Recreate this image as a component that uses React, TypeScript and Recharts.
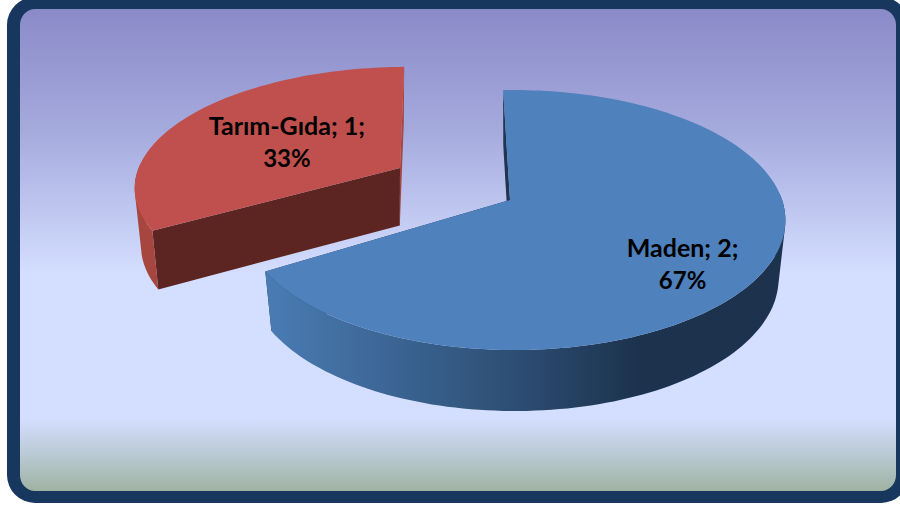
import React from "react";
import { PieChart, Pie } from "recharts";

const categories = ["Maden", "Tarım-Gıda"];
const values = [2, 1];
const tableData = categories.map((name, i) => ({ name, value: values[i] }));

const W = 900;
const H = 506;
const KV = 0.154;
const KU = -0.015;
const RY_RATIO = 0.4735;

type Pose = {
  dx: number; dy: number; rot: number; rx: number; ry: number; shear: number; lowDx: number;
  top: string; face: string; walls: [number, string][]; labelF: number; labelDy: number;
};
const poses: Record<string, Pose> = {
  "Maden": {
    dx: 0, dy: 0, rot: 0, rx: 1, ry: 1, shear: 0, lowDx: 0, top: "#4f81bd", face: "#1f3550",
    walls: [[0, "#4a7cb4"], [0.45, "#2f5178"], [0.72, "#1c324d"], [1, "#1c324d"]],
    labelF: 0.688, labelDy: 21,
  },
  "Tarım-Gıda": {
    dx: -110, dy: -32, rot: 1.5, rx: 0.99, ry: 0.92, shear: 5, lowDx: -3, top: "#c0504d", face: "#5c2522",
    walls: [[0, "#a6463f"], [1, "#a6463f"]],
    labelF: 0.52, labelDy: 4,
  },
};

function project(cx: number, cy: number, R: number, deg: number, p: Pose, f = 1) {
  const t = ((deg + p.rot) * Math.PI) / 180;
  const u = Math.sin(t) * f;
  const v = Math.cos(t) * f;
  const d = 1 + KV * v + KU * u;
  return [
    cx + p.dx + (R * p.rx * u) / d + p.shear * v,
    cy + p.dy - (R * RY_RATIO * p.ry * v) / d,
  ];
}

function lower(pt: number[], cx: number, cy: number, p: Pose) {
  return [cx + p.lowDx + 0.975 * (pt[0] - cx), pt[1] + 58 + 0.02 * (pt[1] - cy)];
}

const toPath = (pts: number[][]) =>
  "M" + pts.map((q) => `${q[0].toFixed(1)},${q[1].toFixed(1)}`).join("L") + "Z";

// Same winding for every quad, so overlapping quads never cancel under nonzero fill.
function orientedQuad(pts: number[][]) {
  let area = 0;
  pts.forEach((a, i) => {
    const b = pts[(i + 1) % pts.length];
    area += a[0] * b[1] - b[0] * a[1];
  });
  return toPath(area < 0 ? [...pts].reverse() : pts);
}

function Slice3D(props: any) {
  const { cx, cy, outerRadius, startAngle, endAngle, name } = props;
  const p = poses[name];
  const a0 = 90 - Math.max(startAngle, endAngle);
  const a1 = 90 - Math.min(startAngle, endAngle);
  const rim: number[][] = [];
  const n = Math.ceil((a1 - a0) / 1.5);
  for (let i = 0; i <= n; i++) rim.push(project(cx, cy, outerRadius, a0 + ((a1 - a0) * i) / n, p));
  const apex = project(cx, cy, outerRadius, 0, p, 0);
  const rimLow = rim.map((q) => lower(q, cx, cy, p));
  const apexLow = lower(apex, cx, cy, p);
  const gid = `wall-${p.dx}`;
  const first = rim[0];
  const last = rim[rim.length - 1];
  const xs = rim.map((q) => q[0]);
  const wallPath = rim
    .slice(1)
    .map((q, i) =>
      rim[i][1] > apex[1] - 5 || q[1] > apex[1] - 5 ? orientedQuad([rim[i], q, rimLow[i + 1], rimLow[i]]) : ""
    )
    .join("");
  return (
    <g>
      <defs>
        <linearGradient id={gid} gradientUnits="userSpaceOnUse" x1={Math.min(...xs)} x2={Math.max(...xs)} y1={0} y2={0}>
          {p.walls.map(([o, c]) => <stop key={o} offset={o} stopColor={c} />)}
        </linearGradient>
      </defs>
      <path d={toPath([apex, first, rimLow[0], apexLow])} fill={p.face} />
      <path d={toPath([apex, last, rimLow[rimLow.length - 1], apexLow])} fill={p.dx === 0 ? p.face : p.walls[0][1]} />
      <path d={wallPath} fill={`url(#${gid})`} />
      <path d={toPath([apex, ...rim])} fill={p.top} />
    </g>
  );
}

function SliceLabel(props: any) {
  const { cx, cy, outerRadius, midAngle, name, value, percent } = props;
  const p = poses[name];
  const [x, y] = project(cx, cy, outerRadius, 90 - midAngle, p, p.labelF);
  return (
    <text x={x} y={y + p.labelDy} textAnchor="middle" fill="#000" fontFamily="Lato, 'Open Sans', sans-serif" fontWeight={700} fontSize={25}>
      <tspan x={x} dy={-8}>{`${name}; ${value};`}</tspan>
      <tspan x={x} dy={32} fontSize={24}>{`${Math.round(percent * 100)}%`}</tspan>
    </text>
  );
}

export default function App() {
  return (
    <div style={{ position: "absolute", left: 0, top: 0, width: W, height: H, overflow: "hidden", background: "#fff" }}>
      <div
        style={{
          position: "absolute", left: 7, top: -3, width: 902, height: 506, boxSizing: "border-box",
          border: "13px solid #17375e", borderTopWidth: 12, borderBottomWidth: 12, borderRadius: 28,
          background:
            "linear-gradient(180deg, #8a8ac8 0%, #a5aadd 25%, #d4deff 55%, #d4deff 85%, #b8c8d0 93%, #9fb2a2 100%)",
        }}
      />
      <div style={{ position: "absolute", left: 0, top: 0 }}>
        <PieChart width={W} height={H} margin={{ top: 0, right: 0, bottom: 0, left: 0 }}>
          <Pie
            data={tableData}
            dataKey="value"
            nameKey="name"
            cx={510}
            cy={200}
            innerRadius={0}
            outerRadius={268}
            startAngle={91.7}
            endAngle={-268.3}
            shape={Slice3D}
            label={SliceLabel}
            labelLine={false}
            isAnimationActive={false}
          />
        </PieChart>
      </div>
    </div>
  );
}
